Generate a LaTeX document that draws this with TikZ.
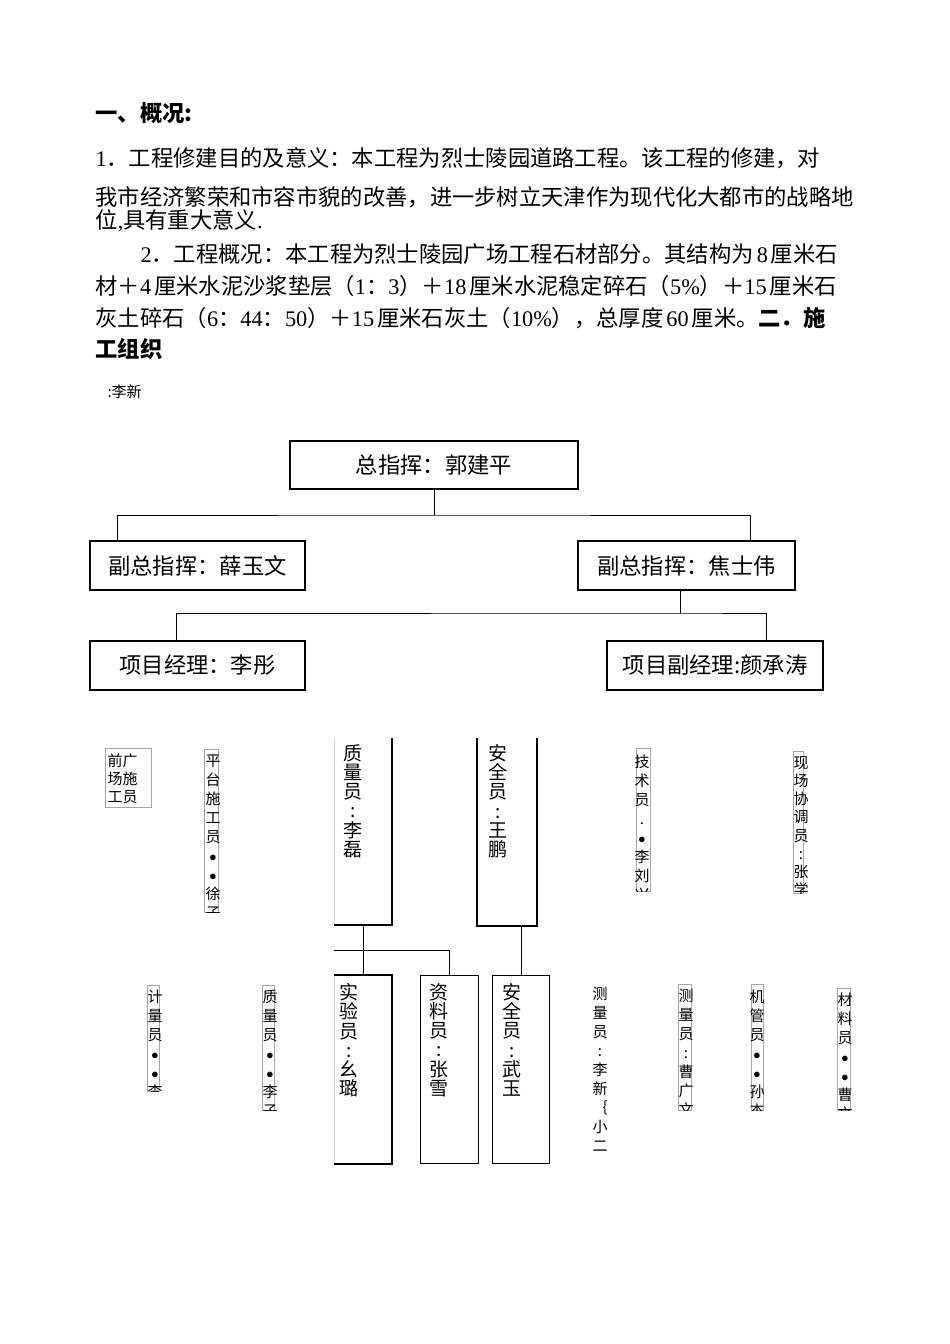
\documentclass[tikz,border=0pt]{standalone}
\usepackage{fontspec}
\setmainfont{Noto Sans CJK SC}
\newfontfamily\lat{Liberation Serif}
\usetikzlibrary{positioning}

\tikzset{
  bodyline/.style={inner sep=0pt, anchor=base west, font=\fontsize{22.3}{26}\selectfont},
  orgbox/.style={draw, line width=1.2pt, inner sep=0pt, font=\fontsize{22.3}{26}\selectfont},
  frame/.style={line width=1.2pt},
  thinbox/.style={draw=gray!70, line width=0.8pt, inner sep=0pt, anchor=north west},
  colbox/.style={inner sep=0pt, anchor=north west},
  vtext/.style={inner sep=0pt, anchor=north, align=center, font=\fontsize{15}{19}\selectfont},
  bigtext/.style={inner sep=0pt, anchor=north, align=center, font=\fontsize{19}{19.2}\selectfont},
}
\newcommand{\dg}[1]{\hspace{3pt}{\lat #1}\hspace{3pt}}

\begin{document}
\begin{tikzpicture}[x=1pt, y=-1pt, line width=1pt]
\useasboundingbox[fill=white] (0,0) rectangle (950,1344);

% Text above the chart
\node[bodyline, font=\bfseries\fontsize{22.3}{26}\selectfont] (head1) at (95,121) {一、概况:};
\node[bodyline] (par1) at (95,166) {{\lat 1}．工程修建目的及意义：本工程为烈士陵园道路工程。该工程的修建，对};
\node[bodyline] (par2) at (95,205) {我市经济繁荣和市容市貌的改善，进一步树立天津作为现代化大都市的战略地};
\node[bodyline] (par3) at (95,228) {位{\lat ,}具有重大意义{\lat .}};
\node[bodyline] (par4) at (140,262) {{\lat 2}．工程概况：本工程为烈士陵园广场工程石材部分。其结构为\dg{8}厘米石};
\node[bodyline] (par5) at (95,294) {材＋{\lat 4}\hspace{3pt}厘米水泥沙浆垫层（{\lat 1}：{\lat 3}）＋{\lat 18}\hspace{3pt}厘米水泥稳定碎石（{\lat 5\%}）＋{\lat 15}\hspace{3pt}厘米石};
\node[bodyline] (par6) at (95,326) {灰土碎石（{\lat 6}：{\lat 44}：{\lat 50}）＋{\lat 15}\hspace{3pt}厘米石灰土（{\lat 10\%}），总厚度\dg{60}厘米。{\bfseries 二．施}};
\node[bodyline, font=\bfseries\fontsize{22.3}{26}\selectfont] (head2) at (95,357) {工组织};
\node[bodyline, font=\fontsize{15}{18}\selectfont] (note) at (107,397) {:李新};

% Chart, upper part
\node[orgbox, minimum width=288pt, minimum height=48pt] (zong) at (434,465) {总指挥：郭建平};
\node[orgbox, minimum width=215pt, minimum height=49pt] (fu1) at (197.5,565.5) {副总指挥：薛玉文};
\node[orgbox, minimum width=217pt, minimum height=49pt] (fu2) at (686.5,565.5) {副总指挥：焦士伟};
\node[orgbox, minimum width=215pt, minimum height=49pt] (xm1) at (197.5,665.5) {项目经理：李彤};
\node[orgbox, minimum width=216pt, minimum height=49pt] (xm2) at (715,665.5) {项目副经理:颜承涛};

\coordinate (bus1) at (434,515);
\coordinate (bus2) at (680,613);
\draw (zong.south) -- (bus1);
\draw ([xshift=28pt]fu1.north west) |- (bus1) -| ([xshift=-45pt]fu2.north east);
\draw ([xshift=-6.5pt]fu2.south) -- (bus2);
\draw ([xshift=87pt]xm1.north west) |- (bus2) -| ([xshift=-57pt]xm2.north east);

% Chart, lower part: big columns
\node[colbox, minimum width=57pt, minimum height=186pt] (zhil) at (334,738) {};
\draw[gray!35] (zhil.north west) -- (zhil.south west);
\draw[frame] (zhil.north east) -- (zhil.south east) -- (zhil.south west);
\node[bigtext] (zhilt) at (353,744) {质\\量\\员\\:\\李\\磊};

\node[colbox, minimum width=59pt, minimum height=187pt] (anq) at (477,738) {};
\draw[frame] (anq.north west) -- (anq.south west) -- (anq.south east) -- (anq.north east);
\node[bigtext] (anqt) at (498,744) {安\\全\\员\\:\\王\\鹏};

\node[colbox, minimum width=57pt, minimum height=188pt] (shiy) at (334,975) {};
\draw[gray!35] (shiy.north west) -- (shiy.south west);
\draw[frame] (shiy.north west) -- (shiy.north east) -- (shiy.south east) -- (shiy.south west);
\node[bigtext] (shiyt) at (349,983) {实\\验\\员\\:\\幺\\璐};

\node[colbox, draw, frame, minimum width=58pt, minimum height=188pt] (ziliao) at (420,975) {};
\node[bigtext] (ziliaot) at (439,983) {资\\料\\员\\:\\张\\雪};

\node[colbox, draw, frame, minimum width=57pt, minimum height=188pt] (anw) at (492,975) {};
\node[bigtext] (anwt) at (512,983) {安\\全\\员\\:\\武\\玉};

\coordinate (bus3) at (334,950);
\draw (zhil.south) -- (shiy.north);
\draw (bus3) -| (ziliao.north);
\draw (anw.north) -- (anw.north |- anq.south);

% Chart, lower part: narrow columns
\node[thinbox, minimum width=46pt, minimum height=59pt] (qiang) at (105,748) {};
\node[inner sep=0pt, anchor=north west, align=left, font=\fontsize{15}{18}\selectfont] (qiangt) at (107,753) {前广\\场施\\工员};

\node[thinbox, minimum width=14pt, minimum height=163pt] (pingt) at (204,749) {};
\begin{scope}
\clip ([xshift=-20pt]pingt.north west) rectangle ([xshift=20pt]pingt.south east);
\node[vtext] (pingtt) at (213,754) {平\\台\\施\\工\\员\\$\bullet$\\$\bullet$\\徐\\子};
\end{scope}

\node[thinbox, minimum width=14pt, minimum height=143pt] (jishu) at (636,748) {};
\begin{scope}
\clip ([xshift=-20pt]jishu.north west) rectangle ([xshift=20pt]jishu.south east);
\node[vtext] (jishut) at (642,754) {技\\术\\员\\.\\$\bullet$\\李\\刘\\兴};
\end{scope}

\node[thinbox, minimum width=10pt, minimum height=142pt] (xianc) at (793,751) {};
\begin{scope}
\clip ([xshift=-20pt]xianc.north west) rectangle ([xshift=20pt]xianc.south east);
\node[vtext, font=\fontsize{15}{18.2}\selectfont] (xianct) at (801,756) {现\\场\\协\\调\\员\\:\\张\\学};
\end{scope}

\node[thinbox, minimum width=12pt, minimum height=106pt] (jiliang) at (147,985) {};
\begin{scope}
\clip ([xshift=-20pt]jiliang.north west) rectangle ([xshift=20pt]jiliang.south east);
\node[vtext] (jiliangt) at (155,989) {计\\量\\员\\$\bullet$\\$\bullet$\\李\\子};
\end{scope}

\node[thinbox, minimum width=12pt, minimum height=125pt] (zhil2) at (262,985) {};
\begin{scope}
\clip ([xshift=-20pt]zhil2.north west) rectangle ([xshift=20pt]zhil2.south east);
\node[vtext] (zhil2t) at (270,989) {质\\量\\员\\$\bullet$\\$\bullet$\\李\\子};
\end{scope}

\begin{scope}
\clip (580,980) rectangle (620,1150);
\node[vtext] (celt) at (600,987) {测\\量\\员\\:\\李\\新\\｛\\小\\二};
\end{scope}

\node[thinbox, minimum width=13pt, minimum height=126pt] (cel2) at (678,984) {};
\begin{scope}
\clip ([xshift=-20pt]cel2.north west) rectangle ([xshift=20pt]cel2.south east);
\node[vtext] (cel2t) at (686,989) {测\\量\\员\\:\\曹\\广\\文};
\end{scope}

\node[thinbox, minimum width=12pt, minimum height=126pt] (jig) at (751,984) {};
\begin{scope}
\clip ([xshift=-20pt]jig.north west) rectangle ([xshift=20pt]jig.south east);
\node[vtext] (jigt) at (757,989) {机\\管\\员\\$\bullet$\\$\bullet$\\孙\\杰};
\end{scope}

\node[thinbox, minimum width=13pt, minimum height=122pt] (cail) at (837,988) {};
\begin{scope}
\clip ([xshift=-20pt]cail.north west) rectangle ([xshift=20pt]cail.south east);
\node[vtext] (cailt) at (845,992) {材\\料\\员\\$\bullet$\\$\bullet$\\曹\\文};
\end{scope}
\end{tikzpicture}
\end{document}
